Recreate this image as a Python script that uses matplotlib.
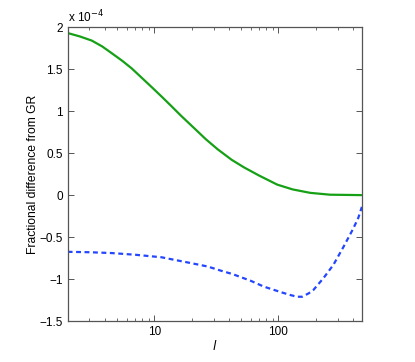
import matplotlib
matplotlib.use("Agg")
import matplotlib.pyplot as plt
from matplotlib.ticker import FixedLocator, NullFormatter, LogLocator

plt.rcParams['font.family'] = ['Liberation Sans', 'DejaVu Sans']

# values in units of 1e-4
l_green = [2.0, 2.5, 3.13, 3.8, 4.53, 5.5, 6.55, 7.87, 9.45, 11.5, 13.7, 16.4, 21, 26, 32.4, 42, 52.8, 70, 97.7, 130, 180, 260, 470]
d_green = [1.93, 1.89, 1.84, 1.77, 1.69, 1.60, 1.51, 1.40, 1.29, 1.17, 1.06, 0.945, 0.795, 0.665, 0.545, 0.42, 0.33, 0.232, 0.125, 0.068, 0.027, 0.005, 0.0]

l_blue = [2.0, 3.0, 4.53, 7.0, 11.4, 19.8, 26.9, 34.4, 42.6, 59.7, 76.4, 107, 125, 141, 155, 175, 191, 230, 277, 333, 400, 440, 470]
d_blue = [-0.675, -0.68, -0.69, -0.71, -0.74, -0.81, -0.85, -0.90, -0.94, -1.02, -1.09, -1.16, -1.19, -1.21, -1.21, -1.17, -1.13, -0.99, -0.83, -0.62, -0.40, -0.27, -0.14]

yticks = [-1.5, -1, -0.5, 0, 0.5, 1, 1.5, 2]
ytick_labels = ['\u22121.5', '\u22121', '\u22120.5', '0', '0.5', '1', '1.5', '2']
xticks = [10, 100]
xtick_labels = ['10', '100']

fig = plt.figure(figsize=(4.15, 3.62), dpi=100)
ax = fig.add_axes([0.163, 0.113, 0.709, 0.812])

ax.plot(l_green, d_green, color='#16a016', lw=1.6, solid_capstyle='butt')
ax.plot(l_blue, d_blue, color='#2446ff', lw=1.6, linestyle=(0, (2.2, 1.6)))

ax.set_xscale('log')
ax.set_xlim(2, 470)
ax.set_ylim(-1.5, 2)
ax.set_yticks(yticks)
ax.set_yticklabels(ytick_labels)
ax.xaxis.set_major_locator(FixedLocator(xticks))
ax.set_xticklabels(xtick_labels)
ax.xaxis.set_minor_locator(LogLocator(base=10, subs=range(2, 10)))
ax.xaxis.set_minor_formatter(NullFormatter())

for s in ax.spines.values():
    s.set_color('#555555')
    s.set_linewidth(0.9)
ax.tick_params(which='both', direction='in', top=True, right=True, colors='#555555',
               labelcolor='black', labelsize=8.5)
ax.tick_params(which='major', length=4, width=0.7)
ax.tick_params(which='minor', length=2, width=0.6)

ax.set_xlabel('$l$', fontsize=9, labelpad=1)
ax.set_ylabel('Fractional difference from GR', fontsize=8.7, labelpad=0)
ax.text(0.0, 1.005, r'x 10$^{-4}$', transform=ax.transAxes, fontsize=8.5,
        ha='left', va='bottom')

fig.savefig('out.png', dpi=100)
